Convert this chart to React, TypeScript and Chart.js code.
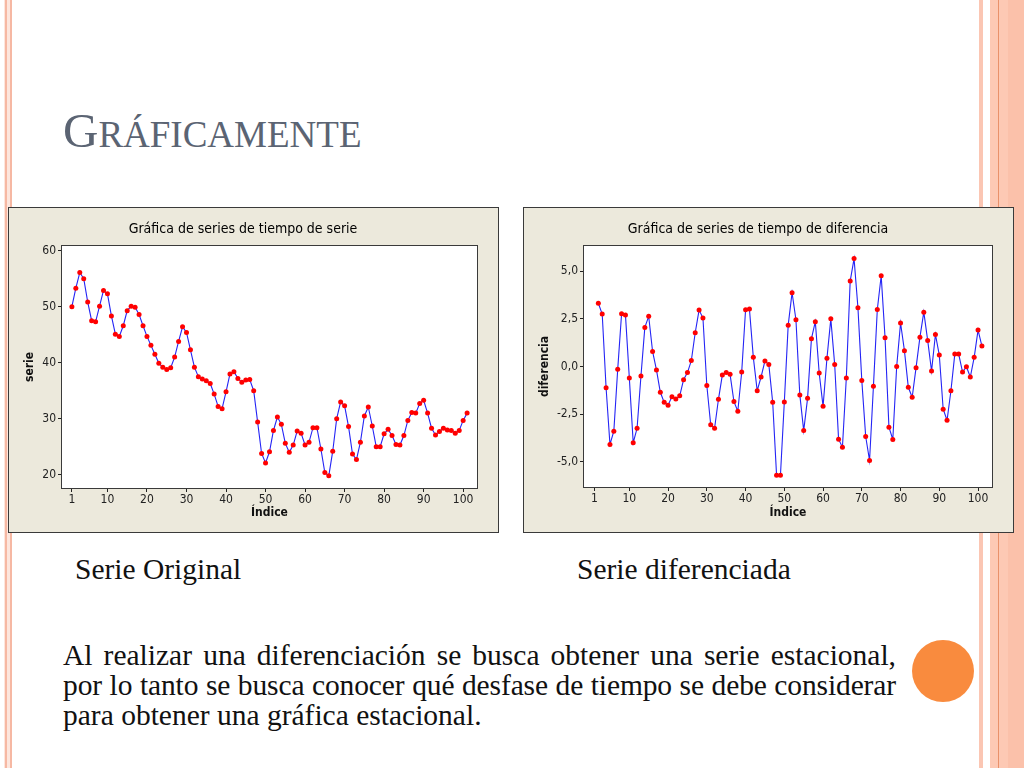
import React, { useEffect, useRef } from 'react';
import { Chart, registerables } from 'chart.js';

Chart.register(...registerables);

// ---------- data ----------
const xTickValues = [1, 10, 20, 30, 40, 50, 60, 70, 80, 90, 100];

const serieStartIndex = 1;
const serieValues = [
  50.0, 53.3, 56.1, 55.0, 50.85, 47.5, 47.3, 50.1, 52.9, 52.3,
  48.35, 45.1, 44.7, 46.6, 49.3, 50.1, 49.9, 48.6, 46.6, 44.7,
  43.1, 41.5, 39.9, 39.2, 38.8, 39.1, 41.0, 43.8, 46.4, 45.4,
  42.3, 39.2, 37.5, 37.1, 36.8, 36.3, 34.4, 32.2, 31.8, 34.8,
  38.0, 38.4, 37.2, 36.5, 36.9, 37.0, 35.0, 29.4, 23.8, 22.1,
  24.1, 27.9, 30.3, 29.0, 25.6, 24.0, 25.3, 27.8, 27.4, 25.3,
  25.8, 28.4, 28.4, 24.6, 20.4, 19.8, 24.2, 30.0, 33.0, 32.3,
  28.6, 23.7, 22.7, 25.8, 30.5, 32.1, 28.7, 25.0, 25.0, 27.3,
  28.1, 27.0, 25.4, 25.3, 27.0, 29.7, 31.1, 31.0, 32.7, 33.3,
  31.0, 28.3, 27.1, 27.7, 28.3, 28.0, 27.9, 27.4, 27.9, 29.7,
  31.0,
];
const serieYTicks = [20, 30, 40, 50, 60];
const serieYTickLabels = ['20', '30', '40', '50', '60'];

const diferenciaStartIndex = 2;
const diferenciaValues = [
  3.32, 2.75, -1.11, -4.09, -3.39, -0.15, 2.77, 2.7, -0.6, -4.0,
  -3.24, -0.5, 2.05, 2.63, 0.79, -0.18, -1.35, -1.88, -2.03, -1.58,
  -1.7, -1.54, -0.69, -0.32, 0.31, 1.77, 2.96, 2.54, -1.0, -3.06,
  -3.24, -1.72, -0.45, -0.31, -0.41, -1.84, -2.35, -0.29, 2.98, 3.01,
  0.48, -1.27, -0.55, 0.29, 0.11, -1.88, -5.7, -5.7, -1.86, 2.17,
  3.87, 2.45, -1.49, -3.36, -1.67, 1.46, 2.35, -0.34, -2.09, 0.43,
  2.5, 0.1, -3.81, -4.23, -0.6, 4.48, 5.66, 3.08, -0.74, -3.67,
  -4.93, -1.04, 2.99, 4.76, 1.51, -3.18, -3.83, 0.0, 2.28, 0.83,
  -1.09, -1.61, -0.06, 1.54, 2.85, 1.37, -0.24, 1.68, 0.6, -2.24,
  -2.82, -1.27, 0.65, 0.65, -0.29, -0.01, -0.55, 0.48, 1.91, 1.07,
];
const diferenciaYTicks = [-5, -2.5, 0, 2.5, 5];
const diferenciaYTickLabels = ['-5,0', '-2,5', '0,0', '2,5', '5,0'];

// ---------- styling ----------
const CHART_FONT = '"DejaVu Sans Condensed", "DejaVu Sans", sans-serif';
const SLIDE_FONT = '"Liberation Serif", "Times New Roman", serif';

const plotPlugin = {
  id: 'plotFrame',
  beforeDatasetsDraw(chart: any) {
    const { ctx, chartArea } = chart;
    const { left, top, right, bottom } = chartArea;
    ctx.save();
    ctx.strokeStyle = '#3a3a3a';
    ctx.lineWidth = 1;
    ctx.strokeRect(Math.round(left) - 0.5, Math.round(top) - 0.5, Math.round(right - left) + 1, Math.round(bottom - top) + 1);
    ctx.restore();
  },
  beforeDraw(chart: any) {
    const { ctx, chartArea } = chart;
    const { left, top, right, bottom } = chartArea;
    ctx.save();
    ctx.fillStyle = '#ffffff';
    ctx.fillRect(left, top, right - left, bottom - top);
    ctx.restore();
  },
};

type MiniProps = {
  left: number;
  top: number;
  width: number;
  height: number;
  title: string;
  yTitle: string;
  values: number[];
  startIndex: number;
  xMin: number;
  xMax: number;
  yMin: number;
  yMax: number;
  yTicks: number[];
  yTickLabels: string[];
  yAxisWidth: number;
  xAxisHeight: number;
  rightPad: number;
};

function TimeSeriesChart(p: MiniProps) {
  const ref = useRef<HTMLCanvasElement | null>(null);
  useEffect(() => {
    if (!ref.current) return;
    const points = p.values.map((v, i) => ({ x: i + p.startIndex, y: v }));
    const chart = new Chart(ref.current, {
      type: 'line',
      data: {
        datasets: [
          {
            data: points,
            borderColor: '#2424f5',
            borderWidth: 1.1,
            pointBackgroundColor: '#ff0000',
            pointBorderWidth: 0,
            pointRadius: 2.5,
            tension: 0,
            fill: false,
          },
        ],
      },
      options: {
        animation: false,
        responsive: false,
        devicePixelRatio: 1,
        parsing: false as any,
        layout: { padding: { left: 0, right: p.rightPad, top: 0, bottom: 0 } },
        plugins: {
          legend: { display: false },
          tooltip: { enabled: false },
          title: {
            display: true,
            text: p.title,
            color: '#000000',
            font: { family: CHART_FONT, size: 14, weight: 'normal' },
            padding: { top: 13.4, bottom: 7.8 },
          },
        },
        scales: {
          x: {
            type: 'linear',
            min: p.xMin,
            max: p.xMax,
            afterBuildTicks: (s: any) => {
              s.ticks = xTickValues.map((v) => ({ value: v }));
            },
            afterFit: (s: any) => {
              s.height = p.xAxisHeight;
            },
            grid: { drawOnChartArea: false, drawTicks: true, tickLength: 4, color: '#222222', tickColor: '#222222' },
            border: { display: false },
            ticks: {
              color: '#222222',
              font: { family: CHART_FONT, size: 12 },
              padding: 1,
              maxRotation: 0,
              autoSkip: false,
              callback: (v: any) => String(v),
            },
            title: {
              display: true,
              text: 'Índice',
              color: '#111111',
              font: { family: CHART_FONT, size: 12, weight: 'bold' },
              padding: { top: 0, bottom: 11.8 },
            },
          },
          y: {
            type: 'linear',
            min: p.yMin,
            max: p.yMax,
            afterBuildTicks: (s: any) => {
              s.ticks = p.yTicks.map((v) => ({ value: v }));
            },
            afterFit: (s: any) => {
              s.width = p.yAxisWidth;
            },
            grid: { drawOnChartArea: false, drawTicks: true, tickLength: 4, color: '#222222', tickColor: '#222222' },
            border: { display: false },
            ticks: {
              color: '#222222',
              font: { family: CHART_FONT, size: 12 },
              padding: 2,
              autoSkip: false,
              callback: (_v: any, idx: number) => p.yTickLabels[idx],
            },
            title: {
              display: true,
              text: p.yTitle,
              color: '#111111',
              font: { family: CHART_FONT, size: 12, weight: 'bold' },
              padding: { top: 13.8, bottom: 0 },
            },
          },
        },
      } as any,
      plugins: [plotPlugin],
    });
    return () => chart.destroy();
  }, []);
  return (
    <div
      style={{
        position: 'absolute',
        left: p.left,
        top: p.top,
        width: p.width,
        height: p.height,
        boxSizing: 'border-box',
        border: '1px solid #3a3a3a',
        background: '#ece9dc',
      }}
    >
      <canvas ref={ref} width={p.width - 2} height={p.height - 2} style={{ display: 'block', width: p.width - 2, height: p.height - 2 }} />
    </div>
  );
}

function Stripe({ left, width, color }: { left: number; width: number; color: string }) {
  return <div style={{ position: 'absolute', left, top: 0, width, height: 768, background: color }} />;
}

export default function App() {
  return (
    <div
      style={{
        position: 'absolute',
        left: 0,
        top: 0,
        width: 1024,
        height: 768,
        background: '#ffffff',
        overflow: 'hidden',
        fontFamily: SLIDE_FONT,
      }}
    >
      {/* left decoration */}
      <Stripe left={4} width={8} color="#fde6dd" />
      <Stripe left={5} width={2} color="#f6b8a3" />
      <Stripe left={10} width={2} color="#f6b8a3" />
      {/* right decoration */}
      <Stripe left={979} width={4} color="#fbc6b3" />
      <Stripe left={990} width={34} color="#fdc9b4" />
      <Stripe left={998} width={1} color="#e9916a" />
      <Stripe left={1008} width={16} color="#fbc1aa" />

      {/* title */}
      <div
        style={{
          position: 'absolute',
          left: 63,
          top: 106,
          lineHeight: 1,
          color: '#5b6473',
          whiteSpace: 'nowrap',
        }}
      >
        <span style={{ fontSize: 49 }}>G</span>
        <span style={{ fontSize: 37 }}>RÁFICAMENTE</span>
      </div>

      <TimeSeriesChart
        left={8}
        top={207}
        width={491}
        height={326}
        title="Gráfica de series de tiempo de serie"
        yTitle="serie"
        values={serieValues}
        startIndex={serieStartIndex}
        xMin={-1.5}
        xMax={103.5}
        yMin={17.63}
        yMax={60.84}
        yTicks={serieYTicks}
        yTickLabels={serieYTickLabels}
        yAxisWidth={53}
        xAxisHeight={44}
        rightPad={21}
      />
      <TimeSeriesChart
        left={523}
        top={207}
        width={491}
        height={326}
        title="Gráfica de series de tiempo de diferencia"
        yTitle="diferencia"
        values={diferenciaValues}
        startIndex={diferenciaStartIndex}
        xMin={-1.7}
        xMax={103.6}
        yMin={-6.32}
        yMax={6.32}
        yTicks={diferenciaYTicks}
        yTickLabels={diferenciaYTickLabels}
        yAxisWidth={60}
        xAxisHeight={45}
        rightPad={21}
      />

      <div style={{ position: 'absolute', left: 75, top: 555, fontSize: 29.5, lineHeight: 1, color: '#111', whiteSpace: 'nowrap' }}>
        Serie Original
      </div>
      <div style={{ position: 'absolute', left: 577, top: 555, fontSize: 29.5, lineHeight: 1, color: '#111', whiteSpace: 'nowrap' }}>
        Serie diferenciada
      </div>

      <div style={{ position: 'absolute', left: 63, top: 640, width: 833, fontSize: 29.5, lineHeight: '30px', color: '#111' }}>
        <div style={{ textAlign: 'justify', textAlignLast: 'justify', whiteSpace: 'nowrap' } as any}>
          Al realizar una diferenciación se busca obtener una serie estacional,
        </div>
        <div style={{ textAlign: 'justify', textAlignLast: 'justify', whiteSpace: 'nowrap', letterSpacing: -0.12 } as any}>
          por lo tanto se busca conocer qué desfase de tiempo se debe considerar
        </div>
        <div style={{ textAlign: 'left', whiteSpace: 'nowrap' }}>para obtener una gráfica estacional.</div>
      </div>

      <div
        style={{
          position: 'absolute',
          left: 912,
          top: 640,
          width: 62,
          height: 62,
          borderRadius: '50%',
          background: '#f98b3e',
        }}
      />
    </div>
  );
}
